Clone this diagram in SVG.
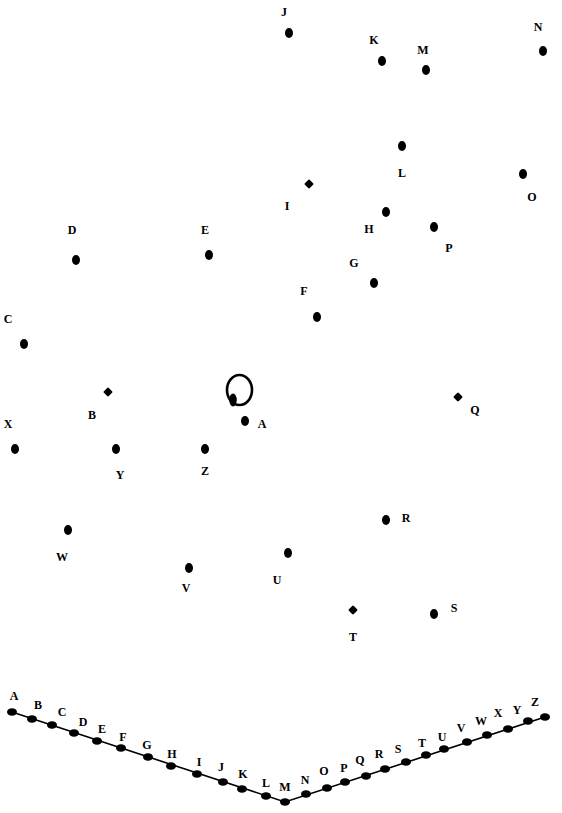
<svg xmlns="http://www.w3.org/2000/svg" width="562" height="813" viewBox="0 0 562 813">
<style>
text{font-family:"Liberation Serif","Times New Roman",serif;font-size:12px;font-weight:bold;fill:#000;text-anchor:middle}
</style>
<defs>
<ellipse id="dot" cx="0" cy="0" rx="4" ry="5"/>
<rect id="dia" x="-3.5" y="-3.5" width="7" height="7" rx="1.2" transform="rotate(45)"/>
<ellipse id="bd" cx="0" cy="0" rx="5" ry="3.8"/>
</defs>
<rect width="562" height="813" fill="#fff"/>
<g id="connectors">
<polyline points="12,712 285,802 545,717" fill="none" stroke="#000" stroke-width="1.6"/>
<ellipse cx="239.5" cy="390" rx="12.5" ry="15" fill="none" stroke="#000" stroke-width="2.6"/>
<ellipse cx="233" cy="400" rx="3.8" ry="6.5" fill="#000"/>
</g>
<g id="node-J"><use href="#dot" x="289" y="33"/><text x="284" y="16">J</text></g>
<g id="node-K"><use href="#dot" x="382" y="61"/><text x="374" y="44">K</text></g>
<g id="node-M"><use href="#dot" x="426" y="70"/><text x="423" y="54">M</text></g>
<g id="node-N"><use href="#dot" x="543" y="51"/><text x="538" y="31">N</text></g>
<g id="node-L"><use href="#dot" x="402" y="146"/><text x="402" y="177">L</text></g>
<g id="node-O"><use href="#dot" x="523" y="174"/><text x="532" y="201">O</text></g>
<g id="node-I"><use href="#dia" x="309" y="184"/><text x="287" y="210">I</text></g>
<g id="node-H"><use href="#dot" x="386" y="212"/><text x="369" y="233">H</text></g>
<g id="node-P"><use href="#dot" x="434" y="227"/><text x="449" y="252">P</text></g>
<g id="node-D"><use href="#dot" x="76" y="260"/><text x="72" y="234">D</text></g>
<g id="node-E"><use href="#dot" x="209" y="255"/><text x="205" y="234">E</text></g>
<g id="node-G"><use href="#dot" x="374" y="283"/><text x="354" y="267">G</text></g>
<g id="node-F"><use href="#dot" x="317" y="317"/><text x="304" y="295">F</text></g>
<g id="node-C"><use href="#dot" x="24" y="344"/><text x="8" y="323">C</text></g>
<g id="node-B"><use href="#dia" x="108" y="392"/><text x="92" y="419">B</text></g>
<g id="node-Q"><use href="#dia" x="458" y="397"/><text x="475" y="414">Q</text></g>
<g id="node-A"><use href="#dot" x="245" y="421"/><text x="262" y="428">A</text></g>
<g id="node-X"><use href="#dot" x="15" y="449"/><text x="8" y="428">X</text></g>
<g id="node-Y"><use href="#dot" x="116" y="449"/><text x="120" y="479">Y</text></g>
<g id="node-Z"><use href="#dot" x="205" y="449"/><text x="205" y="475">Z</text></g>
<g id="node-W"><use href="#dot" x="68" y="530"/><text x="62" y="561">W</text></g>
<g id="node-R"><use href="#dot" x="386" y="520"/><text x="406" y="522">R</text></g>
<g id="node-V"><use href="#dot" x="189" y="568"/><text x="186" y="592">V</text></g>
<g id="node-U"><use href="#dot" x="288" y="553"/><text x="277" y="584">U</text></g>
<g id="node-T"><use href="#dia" x="353" y="610"/><text x="353" y="641">T</text></g>
<g id="node-S"><use href="#dot" x="434" y="614"/><text x="454" y="612">S</text></g>
<g id="scale">
<g id="s-A"><use href="#bd" x="12" y="712"/><text x="14" y="700">A</text></g>
<g id="s-B"><use href="#bd" x="32" y="719"/><text x="38" y="709">B</text></g>
<g id="s-C"><use href="#bd" x="52" y="725"/><text x="62" y="716">C</text></g>
<g id="s-D"><use href="#bd" x="74" y="733"/><text x="83" y="726">D</text></g>
<g id="s-E"><use href="#bd" x="97" y="741"/><text x="102" y="733">E</text></g>
<g id="s-F"><use href="#bd" x="121" y="748"/><text x="123" y="741">F</text></g>
<g id="s-G"><use href="#bd" x="148" y="757"/><text x="147" y="749">G</text></g>
<g id="s-H"><use href="#bd" x="171" y="766"/><text x="172" y="758">H</text></g>
<g id="s-I"><use href="#bd" x="197" y="774"/><text x="199" y="766">I</text></g>
<g id="s-J"><use href="#bd" x="223" y="782"/><text x="221" y="771">J</text></g>
<g id="s-K"><use href="#bd" x="242" y="789"/><text x="243" y="778">K</text></g>
<g id="s-L"><use href="#bd" x="266" y="796"/><text x="266" y="787">L</text></g>
<g id="s-M"><use href="#bd" x="285" y="802"/><text x="285" y="791">M</text></g>
<g id="s-N"><use href="#bd" x="306" y="794"/><text x="305" y="784">N</text></g>
<g id="s-O"><use href="#bd" x="327" y="788"/><text x="324" y="775">O</text></g>
<g id="s-P"><use href="#bd" x="345" y="782"/><text x="344" y="772">P</text></g>
<g id="s-Q"><use href="#bd" x="366" y="776"/><text x="360" y="764">Q</text></g>
<g id="s-R"><use href="#bd" x="385" y="769"/><text x="379" y="758">R</text></g>
<g id="s-S"><use href="#bd" x="406" y="762"/><text x="398" y="753">S</text></g>
<g id="s-T"><use href="#bd" x="426" y="755"/><text x="422" y="747">T</text></g>
<g id="s-U"><use href="#bd" x="444" y="749"/><text x="442" y="741">U</text></g>
<g id="s-V"><use href="#bd" x="467" y="742"/><text x="461" y="732">V</text></g>
<g id="s-W"><use href="#bd" x="487" y="735"/><text x="481" y="725">W</text></g>
<g id="s-X"><use href="#bd" x="508" y="729"/><text x="498" y="717">X</text></g>
<g id="s-Y"><use href="#bd" x="528" y="721"/><text x="517" y="714">Y</text></g>
<g id="s-Z"><use href="#bd" x="545" y="717"/><text x="535" y="706">Z</text></g>
</g>
</svg>
